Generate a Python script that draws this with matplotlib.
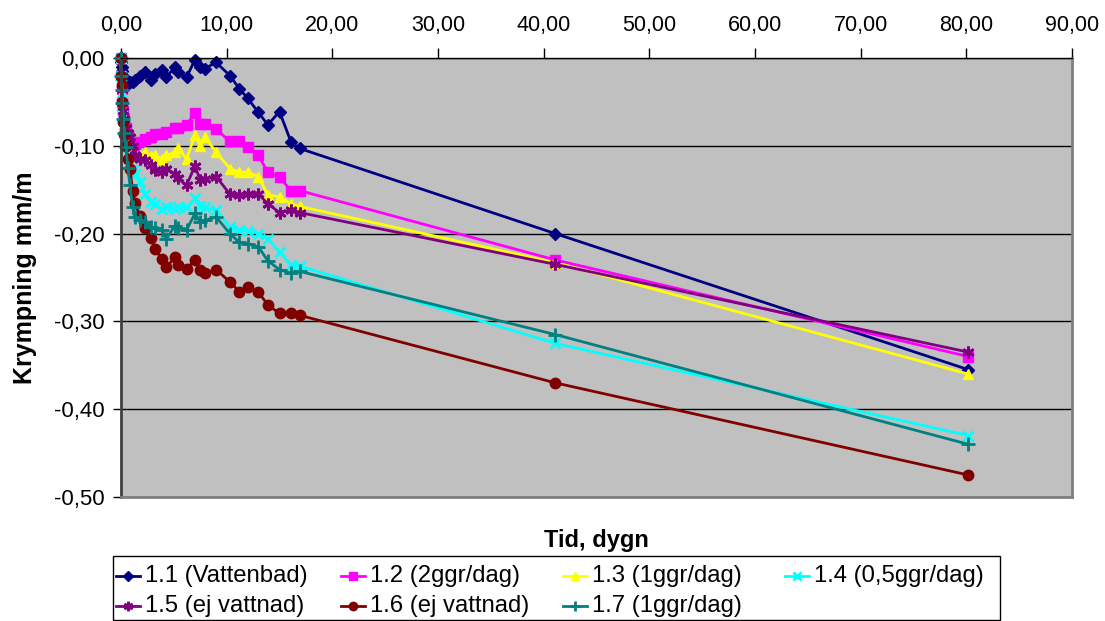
import matplotlib
matplotlib.use("Agg")
import matplotlib.pyplot as plt
from matplotlib.lines import Line2D
from matplotlib.patches import Rectangle
from matplotlib.ticker import FuncFormatter, MultipleLocator

plt.rcParams['font.family'] = ['Liberation Sans', 'DejaVu Sans']
plt.rcParams['axes.unicode_minus'] = False

# Mätdagar (dygn)
dagar = [0, 0.04, 0.08, 0.13, 0.2, 0.3, 0.45, 0.65, 0.85, 1.1, 1.3, 1.8, 2.3, 2.8,
         3.2, 3.85, 4.3, 5.1, 5.4, 6.2, 7.0, 7.5, 7.95, 9.0, 10.3, 11.2, 12.0, 13.0,
         13.9, 15.0, 16.1, 16.9, 41.1, 80.2]

# Krympning mm/m per provkropp
k11 = [0, -0.005, -0.01, -0.015, -0.02, -0.025, -0.028, -0.03, -0.027, -0.027, -0.025,
       -0.02, -0.016, -0.025, -0.018, -0.014, -0.022, -0.010, -0.016, -0.022, -0.002,
       -0.010, -0.012, -0.005, -0.020, -0.035, -0.046, -0.062, -0.076, -0.061, -0.096,
       -0.103, -0.200, -0.355]
k12 = [0, -0.02, -0.035, -0.05, -0.06, -0.07, -0.08, -0.09, -0.10, -0.10, -0.10,
       -0.096, -0.092, -0.09, -0.086, -0.086, -0.084, -0.08, -0.08, -0.076, -0.063,
       -0.075, -0.075, -0.081, -0.095, -0.095, -0.101, -0.111, -0.130, -0.136, -0.151,
       -0.151, -0.230, -0.340]
k13 = [0, -0.02, -0.04, -0.055, -0.065, -0.075, -0.085, -0.095, -0.10, -0.105, -0.108,
       -0.11, -0.107, -0.112, -0.111, -0.115, -0.111, -0.107, -0.103, -0.115, -0.088,
       -0.10, -0.0905, -0.107, -0.126, -0.13, -0.13, -0.135, -0.156, -0.158, -0.166,
       -0.169, -0.233, -0.360]
k14 = [0, -0.02, -0.04, -0.055, -0.07, -0.085, -0.10, -0.11, -0.12, -0.128, -0.132,
       -0.141, -0.155, -0.164, -0.166, -0.1715, -0.170, -0.1715, -0.170, -0.170, -0.160,
       -0.168, -0.170, -0.1735, -0.192, -0.196, -0.197, -0.200, -0.206, -0.221, -0.236,
       -0.237, -0.325, -0.430]
k15 = [0, -0.02, -0.035, -0.05, -0.06, -0.07, -0.08, -0.085, -0.09, -0.10, -0.11,
       -0.115, -0.116, -0.122, -0.128, -0.13, -0.126, -0.132, -0.137, -0.145, -0.123,
       -0.139, -0.138, -0.135, -0.155, -0.156, -0.155, -0.155, -0.166, -0.176, -0.173,
       -0.176, -0.235, -0.335]
k16 = [0, -0.021, -0.031, -0.05, -0.073, -0.086, -0.10, -0.115, -0.126, -0.151, -0.165,
       -0.18, -0.194, -0.205, -0.217, -0.229, -0.238, -0.227, -0.236, -0.24, -0.23,
       -0.242, -0.245, -0.241, -0.255, -0.266, -0.261, -0.267, -0.281, -0.291, -0.291,
       -0.293, -0.370, -0.475]
k17 = [0, -0.02, -0.037, -0.051, -0.07, -0.085, -0.101, -0.125, -0.145, -0.17, -0.181,
       -0.185, -0.187, -0.193, -0.194, -0.196, -0.206, -0.191, -0.194, -0.196, -0.177,
       -0.187, -0.185, -0.181, -0.200, -0.21, -0.2115, -0.215, -0.231, -0.241, -0.245,
       -0.243, -0.315, -0.440]

namn = ['1.1 (Vattenbad)', '1.2 (2ggr/dag)', '1.3 (1ggr/dag)', '1.4 (0,5ggr/dag)',
        '1.5 (ej vattnad)', '1.6 (ej vattnad)', '1.7 (1ggr/dag)']
serier = [k11, k12, k13, k14, k15, k16, k17]

# Excel-liknande stil per serie
stil = [
    dict(color='#000080', marker='D', markersize=6),
    dict(color='#FF00FF', marker='s', markersize=6.5),
    dict(color='#FFFF00', marker='^', markersize=7.5),
    dict(color='#00FFFF', marker='x', markersize=7.5, markeredgewidth=2),
    dict(color='#800080', marker=(6, 2, 0), markersize=8.5, markeredgewidth=2),
    dict(color='#800000', marker='o', markersize=7.5),
    dict(color='#008080', marker='+', markersize=9.5, markeredgewidth=2),
]

W, H = 1105, 621
fig = plt.figure(figsize=(W / 100, H / 100), dpi=100)
fig.patch.set_facecolor('white')
ax = fig.add_axes([121 / W, 1 - 497 / H, (1072 - 121) / W, (497 - 58) / H])
ax.set_facecolor('#C0C0C0')

for y, lbl, st in zip(serier, namn, stil):
    ax.plot(dagar, y, linewidth=2, label=lbl, clip_on=False, **st)

ax.set_xlim(0, 90)
ax.set_ylim(-0.5, 0)
ax.xaxis.set_major_locator(MultipleLocator(10))
ax.yaxis.set_major_locator(MultipleLocator(0.1))
komma = FuncFormatter(lambda v, p: f"{v:.2f}".replace('.', ',').replace('-0,00', '0,00'))
ax.xaxis.set_major_formatter(komma)
ax.yaxis.set_major_formatter(komma)
ax.xaxis.tick_top()
ax.tick_params(axis='x', direction='out', length=7, width=1, colors='black',
               labelsize=15.5, pad=9)
ax.tick_params(axis='y', direction='out', length=6, width=1, colors='black',
               labelsize=16, pad=6)

ax.yaxis.grid(True, color='black', linewidth=1)
ax.set_axisbelow(True)
for s in ['right', 'bottom']:
    ax.spines[s].set_color('#808080')
    ax.spines[s].set_linewidth(2)
ax.spines['left'].set_color('#404040')
ax.spines['left'].set_linewidth(2)
ax.spines['top'].set_color('black')
ax.spines['top'].set_linewidth(1)

ax.set_ylabel('Krympning mm/m', fontsize=18, fontweight='bold', labelpad=12)
fig.text(596 / W, 1 - 540 / H, 'Tid, dygn', fontsize=17, fontweight='bold',
         ha='center', va='center')

# Förklaring med lika breda kolumner
fig.add_artist(Rectangle((113 / W, 1 - 620 / H), (1000 - 113) / W, (620 - 556) / H,
                         transform=fig.transFigure, facecolor='white',
                         edgecolor='black', linewidth=1))
kol_x = [116, 341, 563, 785]
rad_y = [576, 606]
for i, (lbl, st) in enumerate(zip(namn, stil)):
    r, k = divmod(i, 4)
    x0, yc = kol_x[k], rad_y[r]
    fig.add_artist(Line2D([x0 / W, (x0 + 24) / W], [1 - yc / H] * 2,
                          transform=fig.transFigure, color=st['color'], linewidth=2))
    mst = {kk: v for kk, v in st.items() if kk != 'color'}
    mst['markersize'] = mst['markersize'] * 0.8
    fig.add_artist(Line2D([(x0 + 12) / W], [1 - yc / H], transform=fig.transFigure,
                          color=st['color'], linestyle='none', **mst))
    fig.text((x0 + 29) / W, 1 - yc / H, lbl, fontsize=17.2, ha='left', va='center')

fig.savefig('out.png', dpi=100)
